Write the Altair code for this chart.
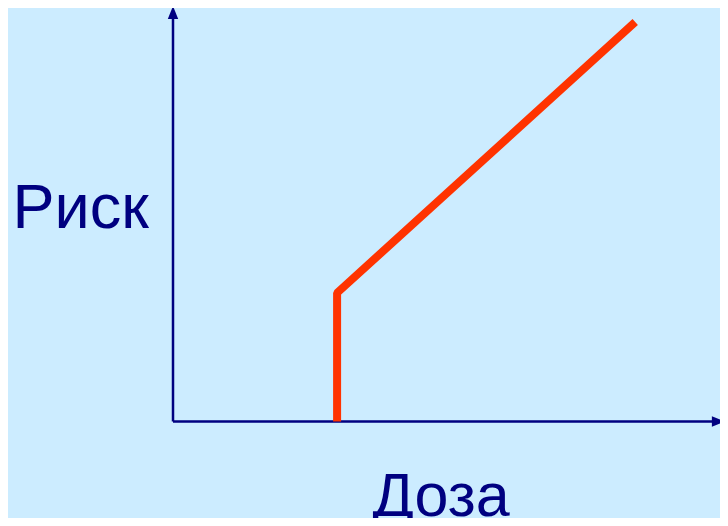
import altair as alt
import pandas as pd

# Data
risk_dose = [3.0, 3.0, 8.45]
risk_value = [0.0, 3.11, 9.66]

x_axis_dose = [0.0, 9.97]
x_axis_risk = [0.0, 0.0]
y_axis_dose = [0.0, 0.0]
y_axis_risk = [0.0, 9.89]

x_label = "Доза"
y_label = "Риск"

NAVY = "#000080"
RED = "#FF3300"
BG = "#CCECFF"

xs = alt.Scale(domain=[0, 10], range=[165, 712], nice=False, zero=False)
ys = alt.Scale(domain=[0, 10], range=[413.5, 0], nice=False, zero=False)

curve = pd.DataFrame({"dose": risk_dose, "risk": risk_value, "o": [0, 1, 2]})
xax = pd.DataFrame({"dose": x_axis_dose, "risk": x_axis_risk, "o": [0, 1]})
yax = pd.DataFrame({"dose": y_axis_dose, "risk": y_axis_risk, "o": [0, 1]})
xhead = pd.DataFrame({"dose": [x_axis_dose[-1]], "risk": [x_axis_risk[-1]]})
yhead = pd.DataFrame({"dose": [y_axis_dose[-1]], "risk": [y_axis_risk[-1]]})

xenc = alt.X("dose:Q", scale=xs,
             axis=alt.Axis(title=x_label, domain=False, ticks=False, labels=False, grid=False,
                           titleFontSize=61, titleFont="Liberation Sans", titleFontWeight="normal",
                           titleColor=NAVY, titleAlign="left", titleBaseline="alphabetic",
                           titleX=364, titleY=-3, titleAnchor="start"))
yenc = alt.Y("risk:Q", scale=ys,
             axis=alt.Axis(title=y_label, domain=False, ticks=False, labels=False, grid=False,
                           titleFontSize=63, titleFont="Liberation Sans", titleFontWeight="normal",
                           titleColor=NAVY, titleAngle=0, titleAlign="left", titleBaseline="alphabetic",
                           titleX=4, titleY=219, titleAnchor="start"))

line_x = alt.Chart(xax).mark_line(color=NAVY, strokeWidth=2.5, clip=False).encode(
    x=xenc, y=yenc, order="o:Q")
line_y = alt.Chart(yax).mark_line(color=NAVY, strokeWidth=2.5, clip=False).encode(
    x=alt.X("dose:Q", scale=xs), y=alt.Y("risk:Q", scale=ys), order="o:Q")
head_x = alt.Chart(xhead).mark_point(shape="M1,0L-1,-0.8L-1,0.8Z", size=169, filled=True,
                                     color=NAVY, opacity=1, clip=False).encode(
    x=alt.X("dose:Q", scale=xs), y=alt.Y("risk:Q", scale=ys))
head_y = alt.Chart(yhead).mark_point(shape="M0,-1L-0.8,1L0.8,1Z", size=169, filled=True,
                                     color=NAVY, opacity=1, clip=False).encode(
    x=alt.X("dose:Q", scale=xs), y=alt.Y("risk:Q", scale=ys))
red = alt.Chart(curve).mark_line(color=RED, strokeWidth=8, strokeJoin="bevel", strokeCap="butt",
                                 clip=False).encode(
    x=alt.X("dose:Q", scale=xs), y=alt.Y("risk:Q", scale=ys), order="o:Q")

chart = alt.layer(line_x, line_y, head_x, head_y, red).properties(
    width=712, height=510,
    autosize=alt.AutoSizeParams(type="none"),
    padding=0,
    background=BG,
).configure_view(stroke=None)

chart.save("out.html", embed_options={"renderer": "svg", "actions": False})
